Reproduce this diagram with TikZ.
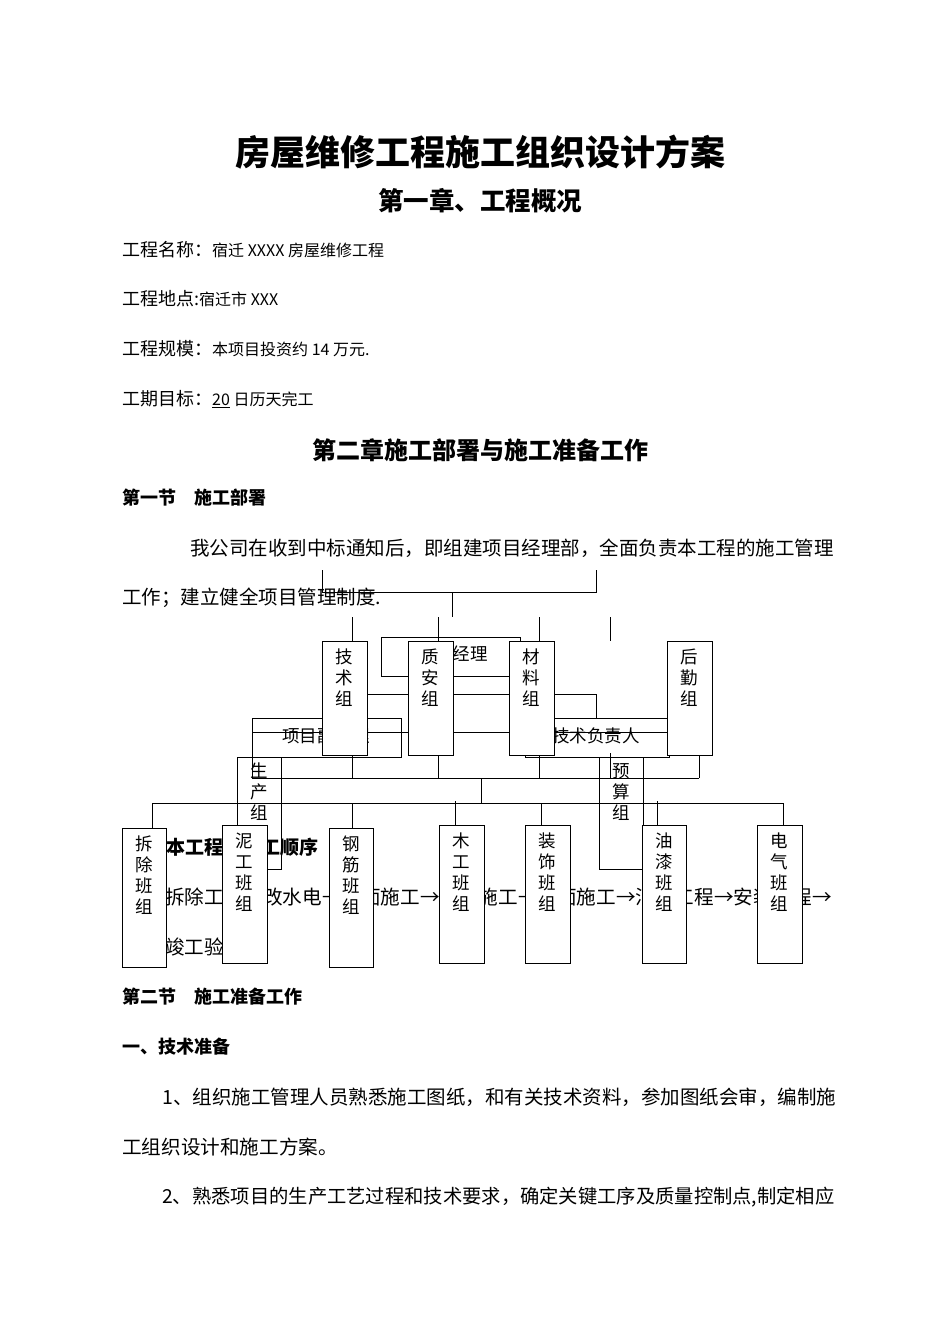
\documentclass[tikz,border=0pt]{standalone}
\usepackage{fontspec}
\setmainfont{Noto Sans CJK SC}
\newcommand{\tbox}[6]{%
  \draw[bx] (#2,#3) rectangle (#4,#5);
  \node[bt,anchor=north] (#1) at ({(#2+#4)/2},#3+8) {#6};}
\begin{document}
\begin{tikzpicture}[x=1pt,y=-1pt,
  bx/.style={draw=black,fill=white,line width=0.9pt},
  wb/.style={draw=black,line width=0.9pt},
  ln/.style={draw=black,line width=0.9pt},
  bt/.style={inner sep=0pt,align=center,font=\fontsize{17.5}{21}\selectfont},
  tx/.style={anchor=west,inner sep=0pt,font=\fontsize{18}{20}\selectfont},
  hd/.style={anchor=west,inner sep=0pt,font=\fontsize{18}{20}\selectfont\bfseries}]
\useasboundingbox (0,0) rectangle (950,1344);
\fill[white] (0,0) rectangle (950,1344);
% page text
\node[inner sep=0pt,font=\fontsize{35}{38}\selectfont\bfseries] (title) at (480,152) {房屋维修工程施工组织设计方案};
\node[inner sep=0pt,font=\fontsize{25.5}{28}\selectfont\bfseries] (ch1) at (480,201) {第一章、工程概况};
\node[tx] (l1) at (122,250) {工程名称：{\fontsize{16}{18}\selectfont 宿迁 XXXX 房屋维修工程}};
\node[tx] (l2) at (122,299) {工程地点:{\fontsize{16}{18}\selectfont 宿迁市 XXX}};
\node[tx] (l3) at (122,349) {工程规模：{\fontsize{16}{18}\selectfont 本项目投资约 14 万元.}};
\node[tx] (l4) at (122,399) {工期目标：{\fontsize{16}{18}\selectfont \underline{20} 日历天完工}};
\node[inner sep=0pt,font=\fontsize{24}{26}\selectfont\bfseries] (ch2) at (480,450) {第二章施工部署与施工准备工作};
\node[hd] (s1) at (122,498) {第一节\quad 施工部署};
\node[tx,font=\fontsize{19.5}{21}\selectfont] (p1) at (190,548) {我公司在收到中标通知后，即组建项目经理部，全面负责本工程的施工管理};
\node[tx,font=\fontsize{19.5}{21}\selectfont] (p2) at (122,598) {工作；建立健全项目管理制度.};
\node[hd,font=\fontsize{19}{21}\selectfont\bfseries] (p3) at (128,847) {二、本工程总施工顺序};
\node[tx,font=\fontsize{19.6}{21}\selectfont] (p4) at (165,897) {拆除工程→改水电→墙面施工→地面施工→顶面施工→油漆工程→安装工程→};
\node[tx,font=\fontsize{19.6}{21}\selectfont] (p5) at (165,947) {竣工验收};
\node[hd] (s2) at (122,997) {第二节\quad 施工准备工作};
\node[hd] (s3) at (122,1047) {一、技术准备};
\node[tx,font=\fontsize{19.5}{21}\selectfont] (p6) at (162,1097) {1、组织施工管理人员熟悉施工图纸，和有关技术资料，参加图纸会审，编制施};
\node[tx,font=\fontsize{19.6}{21}\selectfont] (p7) at (122,1147) {工组织设计和施工方案。};
\node[tx,font=\fontsize{19.3}{21}\selectfont] (p8) at (162,1197) {2、熟悉项目的生产工艺过程和技术要求，确定关键工序及质量控制点,制定相应};
% wide (unfilled) boxes
\draw[wb] (381,637) rectangle (520,676);
\node[bt] (jl) at (470,654) {经理};
\draw[wb] (252,718) rectangle (401,757);
\node[bt] (fjl) at (326,736) {项目副经理};
\draw[wb] (525,718) rectangle (669,757);
\node[bt] (jsfz) at (596,736) {技术负责人};
\draw[wb] (237,757) rectangle (281,869);
\node[bt,anchor=north] (sc) at (259,763) {生\\产\\组};
\draw[wb] (599,757) rectangle (643,869);
\node[bt,anchor=north] (ys) at (621,763) {预\\算\\组};
% connectors
\draw[ln] (322,570) -- (322,592) -- (596,592) -- (596,570);
\draw[ln] (452,592) -- (452,617);
\draw[ln] (352,617) -- (352,778);
\draw[ln] (438,617) -- (438,778);
\draw[ln] (539,617) -- (539,778);
\draw[ln] (610,617) -- (610,641);
\draw[ln] (367,694) -- (596,694) -- (596,718);
\draw[ln] (252,732) -- (667,732);
\draw[ln] (699,733) -- (699,778);
\draw[ln] (610,753) -- (610,778);
\draw[ln] (252,757) -- (252,778) -- (699,778);
\draw[ln] (481,778) -- (481,803);
\draw[ln] (152,803) -- (783,803);
\draw[ln] (152,803) -- (152,828);
\draw[ln] (352,803) -- (352,828);
\draw[ln] (455,801) -- (455,825);
\draw[ln] (541,803) -- (541,825);
\draw[ln] (657,801) -- (657,825);
\draw[ln] (783,803) -- (783,825);
% tall boxes
\tbox{js}{322}{641}{367}{755}{技\\术\\组}
\tbox{za}{408}{641}{453}{755}{质\\安\\组}
\tbox{cl}{509}{641}{554}{755}{材\\料\\组}
\tbox{hq}{667}{641}{712}{755}{后\\勤\\组}
\tbox{cc}{122}{828}{166}{967}{拆\\除\\班\\组}
\tbox{ng}{222}{825}{267}{963}{泥\\工\\班\\组}
\tbox{gj}{329}{828}{373}{967}{钢\\筋\\班\\组}
\tbox{mg}{439}{825}{484}{963}{木\\工\\班\\组}
\tbox{zs}{525}{825}{570}{963}{装\\饰\\班\\组}
\tbox{yq}{642}{825}{686}{963}{油\\漆\\班\\组}
\tbox{dq}{757}{825}{802}{963}{电\\气\\班\\组}
\end{tikzpicture}
\end{document}
